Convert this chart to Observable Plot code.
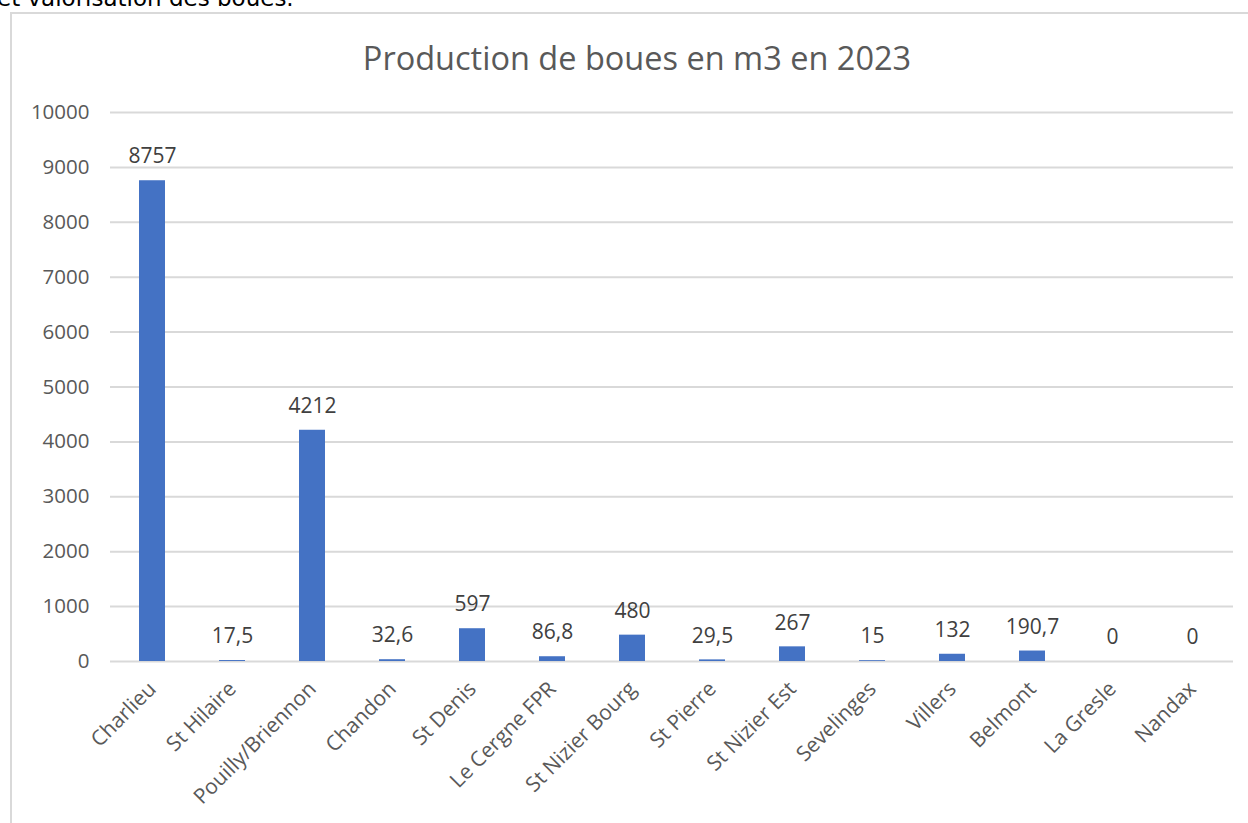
<!DOCTYPE html>
<html>
<head>
<meta charset="utf-8">
<script src="https://cdn.jsdelivr.net/npm/d3@7"></script>
<script src="https://cdn.jsdelivr.net/npm/@observablehq/plot@0.6"></script>
<style>
  html, body { margin: 0; padding: 0; background: #fff; overflow: hidden; width: 1248px; height: 823px; }
  #header { position: absolute; left: -3px; top: -13px; line-height: 1; font-family: "DejaVu Sans", Verdana, sans-serif; font-size: 23px; color: #000; white-space: nowrap; }
  #frame { position: absolute; left: 10px; top: 12px; width: 1300px; height: 900px; border: 2px solid #d9d9d9; box-sizing: border-box; }
  #title { position: absolute; left: 0; width: 1274px; top: 35px; text-align: center; font-family: "Open Sans", sans-serif; font-size: 32.5px; color: #595959; }
  #chart { position: absolute; left: 0; top: 90px; }
</style>
</head>
<body>
<div id="header">et valorisation des boues.</div>
<div id="frame"></div>
<div id="title">Production de boues en m3 en 2023</div>
<div id="chart"></div>
<script>
const categories = ["Charlieu", "St Hilaire", "Pouilly/Briennon", "Chandon", "St Denis", "Le Cergne FPR", "St Nizier Bourg", "St Pierre", "St Nizier Est", "Sevelinges", "Villers", "Belmont", "La Gresle", "Nandax"];
const values = [8757, 17.5, 4212, 32.6, 597, 86.8, 480, 29.5, 267, 15, 132, 190.7, 0, 0];
const yTicks = [0, 1000, 2000, 3000, 4000, 5000, 6000, 7000, 8000, 9000, 10000];

const data = categories.map((c, i) => ({ site: c, value: values[i] }));
const fmt = v => String(v).replace(".", ",");

const chart = Plot.plot({
  width: 1248,
  height: 733,
  marginTop: 22,
  marginBottom: 162,
  marginLeft: 110,
  marginRight: 15,
  style: { fontFamily: "'Open Sans', sans-serif", color: "#595959", background: "transparent" },
  x: { domain: categories, paddingInner: 0.675, paddingOuter: 0.3375, label: null },
  y: { domain: [0, 10000], label: null },
  marks: [
    Plot.ruleY(yTicks, { stroke: "#d9d9d9", strokeWidth: 2 }),
    Plot.barY(data, { x: "site", y: "value", fill: "#4472c4" }),
    Plot.text(data, { x: "site", y: "value", text: d => fmt(d.value), dy: -24, fontSize: 21, fill: "#404040" }),
    Plot.axisY({ ticks: yTicks, tickSize: 0, tickPadding: 21, fontSize: 20.5, tickFormat: d => String(d), label: null }),
    Plot.axisX({ tickSize: 0, tickRotate: -45, tickPadding: 24, fontSize: 21, label: null, dx: 0 })
  ]
});
document.getElementById("chart").appendChild(chart);
</script>
</body>
</html>
